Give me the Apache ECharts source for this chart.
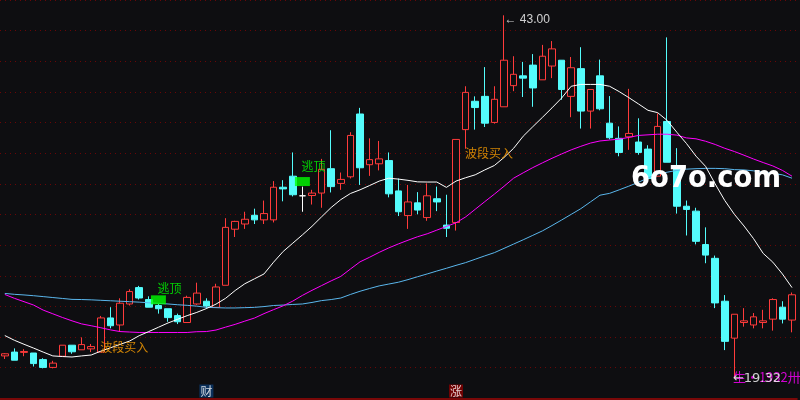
<!DOCTYPE html>
<html><head><meta charset="utf-8">
<script src="https://cdn.jsdelivr.net/npm/echarts@6/dist/echarts.min.js"></script>
<style>html,body{margin:0;padding:0;background:#0e0e11;}#c{width:800px;height:400px;}</style>
</head><body><div id="c"></div>
<script>
// ---- data ----
const opens = [20.77,21.02,21.00,20.96,20.53,20.02,20.75,21.47,21.17,21.23,
21.02,23.25,22.79,24.16,25.23,24.45,24.06,23.85,23.40,22.95,
24.16,24.34,23.94,25.38,29.04,29.38,29.95,29.65,29.65,31.78,
32.50,31.22,31.24,31.40,32.99,32.03,32.46,36.56,33.25,33.31,
33.52,31.54,29.93,30.76,29.80,31.03,29.31,29.48,35.54,37.39,
37.71,36.01,37.03,38.41,39.05,39.75,38.79,39.69,40.07,37.71,
39.52,36.75,39.05,35.96,34.97,35.07,34.73,34.27,32.50,36.07,
33.20,30.54,30.22,28.04,27.14,24.34,21.93,22.95,22.79,22.95,
23.17,23.95,23.11];
const closes = [20.91,20.49,21.06,20.27,20.02,20.30,21.47,21.04,21.51,21.38,
23.25,22.74,24.21,24.97,24.55,23.95,23.85,23.27,23.00,24.59,
24.87,24.02,25.27,29.16,29.55,29.69,29.65,30.06,31.78,31.67,
31.29,31.22,31.40,32.95,31.82,32.29,35.16,33.05,33.58,33.63,
31.35,30.18,30.82,30.29,31.22,30.82,29.10,34.90,37.97,36.98,
35.96,37.52,40.07,39.15,38.90,38.26,40.33,40.81,38.16,39.58,
36.75,38.16,36.90,35.01,34.05,35.29,34.05,32.35,35.75,33.41,
30.54,30.33,28.25,27.35,24.23,21.72,23.49,23.06,23.32,23.06,
24.45,23.17,24.76];
const lows = [20.57,20.49,20.75,20.08,19.96,19.96,20.75,20.91,21.17,21.02,
21.00,22.57,22.36,24.06,24.45,23.95,23.53,23.00,22.85,22.95,
24.10,23.85,23.94,25.38,28.53,29.06,29.38,29.38,29.48,30.86,
31.18,30.18,30.65,30.44,31.44,31.61,32.35,31.93,32.52,32.88,
31.12,29.90,29.06,30.01,29.59,30.22,28.53,28.95,34.29,35.54,
35.71,35.93,37.03,38.05,37.67,37.03,38.79,38.90,37.49,36.35,
35.61,35.61,36.80,34.90,33.80,34.22,33.90,32.24,32.50,33.41,
30.06,28.63,28.05,26.82,23.89,21.15,19.32,22.68,22.57,22.57,
22.42,22.89,22.31];
const highs = [20.95,21.26,21.21,20.96,20.62,20.45,21.47,21.47,21.98,21.55,
23.38,23.95,24.53,25.12,25.34,24.66,24.16,23.85,23.53,24.70,
25.55,24.53,25.48,29.76,29.59,30.18,30.38,30.91,32.18,32.24,
34.05,31.82,31.61,33.63,35.50,32.74,35.37,36.96,34.97,34.80,
34.05,32.35,31.93,31.46,32.03,31.82,31.29,34.90,38.37,37.71,
39.62,38.37,43.00,40.33,39.96,40.47,41.07,41.32,40.07,40.28,
40.92,38.16,40.11,37.73,35.75,38.20,36.28,34.52,36.60,41.56,
34.33,30.91,30.44,29.16,27.32,24.74,23.49,23.89,23.57,23.78,
24.53,24.34,24.91];
const maFast = [22.10,21.79,21.53,21.28,21.02,20.77,20.73,20.70,20.77,20.83,
21.08,21.30,21.52,21.74,22.09,22.36,22.64,22.92,23.16,23.40,
23.61,23.86,24.15,24.53,25.04,25.48,25.80,26.12,26.89,27.59,
28.13,28.67,29.23,29.85,30.46,30.97,31.37,31.61,31.89,32.18,
32.37,32.31,32.23,32.13,32.12,32.12,31.77,32.18,32.40,32.59,
32.91,33.20,33.72,34.32,35.11,35.73,36.34,36.96,37.60,38.37,
38.49,38.49,38.49,38.37,38.02,37.63,37.22,36.80,36.65,36.14,
35.37,34.64,33.81,33.14,31.99,30.91,30.01,29.25,28.42,27.46,
26.89,26.12,25.23];
const maMid = [24.78,24.53,24.31,24.09,23.76,23.52,23.28,23.06,22.86,22.74,
22.61,22.47,22.36,22.33,22.30,22.30,22.30,22.30,22.30,22.30,
22.35,22.36,22.46,22.65,22.83,23.04,23.24,23.53,23.79,24.04,
24.35,24.72,25.05,25.36,25.67,25.96,26.44,26.91,27.21,27.53,
27.82,28.08,28.32,28.55,28.74,28.98,29.22,29.46,29.84,30.34,
30.84,31.33,31.84,32.37,32.72,33.06,33.37,33.67,33.95,34.22,
34.45,34.66,34.80,34.86,34.92,35.03,35.16,35.20,35.24,35.24,
35.18,35.00,34.94,34.78,34.57,34.32,34.11,33.87,33.62,33.39,
33.17,32.88,32.50];
const maSlow = [24.85,24.79,24.75,24.70,24.64,24.58,24.52,24.46,24.45,24.43,
24.40,24.37,24.34,24.31,24.28,24.24,24.20,24.16,24.11,24.07,
24.02,23.94,23.92,23.90,23.90,23.92,23.94,23.99,24.06,24.09,
24.13,24.16,24.26,24.38,24.45,24.55,24.78,24.99,25.17,25.34,
25.46,25.58,25.75,25.94,26.12,26.31,26.49,26.68,26.86,27.08,
27.30,27.51,27.79,28.07,28.35,28.64,28.93,29.28,29.64,30.01,
30.38,30.82,31.26,31.38,31.61,31.85,32.10,32.39,32.64,32.76,
32.88,32.96,32.99,33.01,33.01,32.99,32.93,32.91,32.85,32.76,
32.68,32.59,32.37];
const escapeBoxes = [[16, 24.43], [31, 32.15]];
const escapeTexts = [[16, 25.20], [31, 33.15]];
const bandBuyTexts = [[10, 21.34], [48, 34.00]];
const eventMarks = [[21, '财'], [47, '涨']];
const highMark = [52, 43.00];
const lowMark = [76, 19.32];
const categories = opens.map((_, i) => String(i + 1));

// ---- chart ----
const BG = '#0e0e11', RED = '#ff3b3b', CYAN = '#54fcfc';
const candleData = opens.map((o, i) => {
  const it = { value: [o, closes[i], lows[i], highs[i]] };
  if (o === closes[i]) it.itemStyle = { color: '#ffffff', color0: '#ffffff', borderColor: '#ffffff', borderColor0: '#ffffff' };
  return it;
});
const hiddenSym = { symbolSize: 1, itemStyle: { color: 'rgba(0,0,0,0)' } };
const chart = echarts.init(document.getElementById('c'), null, { renderer: 'canvas' });
chart.setOption({
  backgroundColor: BG,
  animation: false,
  grid: { left: -0.8, right: 3.2, top: -9.36, bottom: 1.64 },
  xAxis: {
    type: 'category', data: categories, boundaryGap: true,
    axisLine: { show: true, lineStyle: { color: '#7a0808', width: 2 } },
    axisTick: { show: false }, axisLabel: { show: false }, splitLine: { show: false }
  },
  yAxis: {
    type: 'value', min: 18, max: 44, interval: 2, scale: true,
    axisLine: { show: false }, axisTick: { show: false }, axisLabel: { show: false },
    splitLine: { show: true, lineStyle: { color: '#6a0606', type: [1, 4], width: 1 } }
  },
  series: [
    {
      type: 'candlestick', data: candleData, barWidth: 7,
      itemStyle: { color: BG, color0: CYAN, borderColor: RED, borderColor0: CYAN, borderWidth: 1 }
    },
    { type: 'line', data: maSlow, symbol: 'none', lineStyle: { color: '#5ab6ec', width: 1 }, z: 3 },
    { type: 'line', data: maMid, symbol: 'none', lineStyle: { color: '#ff00ff', width: 1 }, z: 3 },
    { type: 'line', data: maFast, symbol: 'none', lineStyle: { color: '#ffffff', width: 1 }, z: 3 },
    {
      type: 'scatter', data: escapeBoxes, symbol: 'rect', symbolSize: [15, 9],
      itemStyle: { color: '#00ff00' }, z: 5
    },
    Object.assign({
      type: 'scatter', z: 6,
      data: escapeTexts.map(d => ({ value: d, label: { show: true, position: 'inside', offset: [11, 0], formatter: '逃顶', color: '#00ff00', fontSize: 12, fontFamily: 'Noto Sans CJK SC' } }))
    }, hiddenSym),
    Object.assign({
      type: 'scatter', z: 6,
      data: bandBuyTexts.map(d => ({ value: d, label: { show: true, position: 'right', distance: -1, formatter: '波段买入', color: '#ffa000', fontSize: 12, fontFamily: 'Noto Sans CJK SC' } }))
    }, hiddenSym),
    Object.assign({
      type: 'scatter', z: 6,
      data: eventMarks.map(d => ({ value: [d[0], 18.48], label: {
        show: true, position: 'inside', formatter: d[1], color: '#ffffff', fontSize: 12,
        fontFamily: 'Noto Sans CJK SC', padding: [1, 1, 0, 1],
        backgroundColor: d[1] === '财' ? '#0b3a6e' : '#8a0000' } }))
    }, hiddenSym),
    Object.assign({
      type: 'scatter', z: 6,
      data: [
        { value: highMark, label: { show: true, position: 'right', distance: 0, offset: [0, 4], formatter: '← ' + highMark[1].toFixed(2), color: '#ffffff', fontSize: 12, fontFamily: 'Liberation Sans' } },
        { value: lowMark, label: { show: true, position: 'right', distance: -2, offset: [0, -1], formatter: '生·1932卅', color: '#ff00ff', fontSize: 13, fontFamily: 'Noto Sans CJK SC' } }
      ]
    }, hiddenSym),
    Object.assign({
      type: 'scatter', z: 7,
      data: [
        { value: lowMark, label: { show: true, position: 'right', distance: -2, offset: [0, 0], formatter: '←' + lowMark[1].toFixed(2), color: '#ffffff', fontSize: 13, fontFamily: 'DejaVu Sans' } }
      ]
    }, hiddenSym)
  ],
  graphic: [{
    type: 'text', x: 631, y: 179, scaleX: 0.885, z: 100,
    style: { text: '6o7o.com', font: 'bold 31px "DejaVu Sans"', fill: '#ffffff', verticalAlign: 'middle', align: 'left' }
  }]
});
</script></body></html>
